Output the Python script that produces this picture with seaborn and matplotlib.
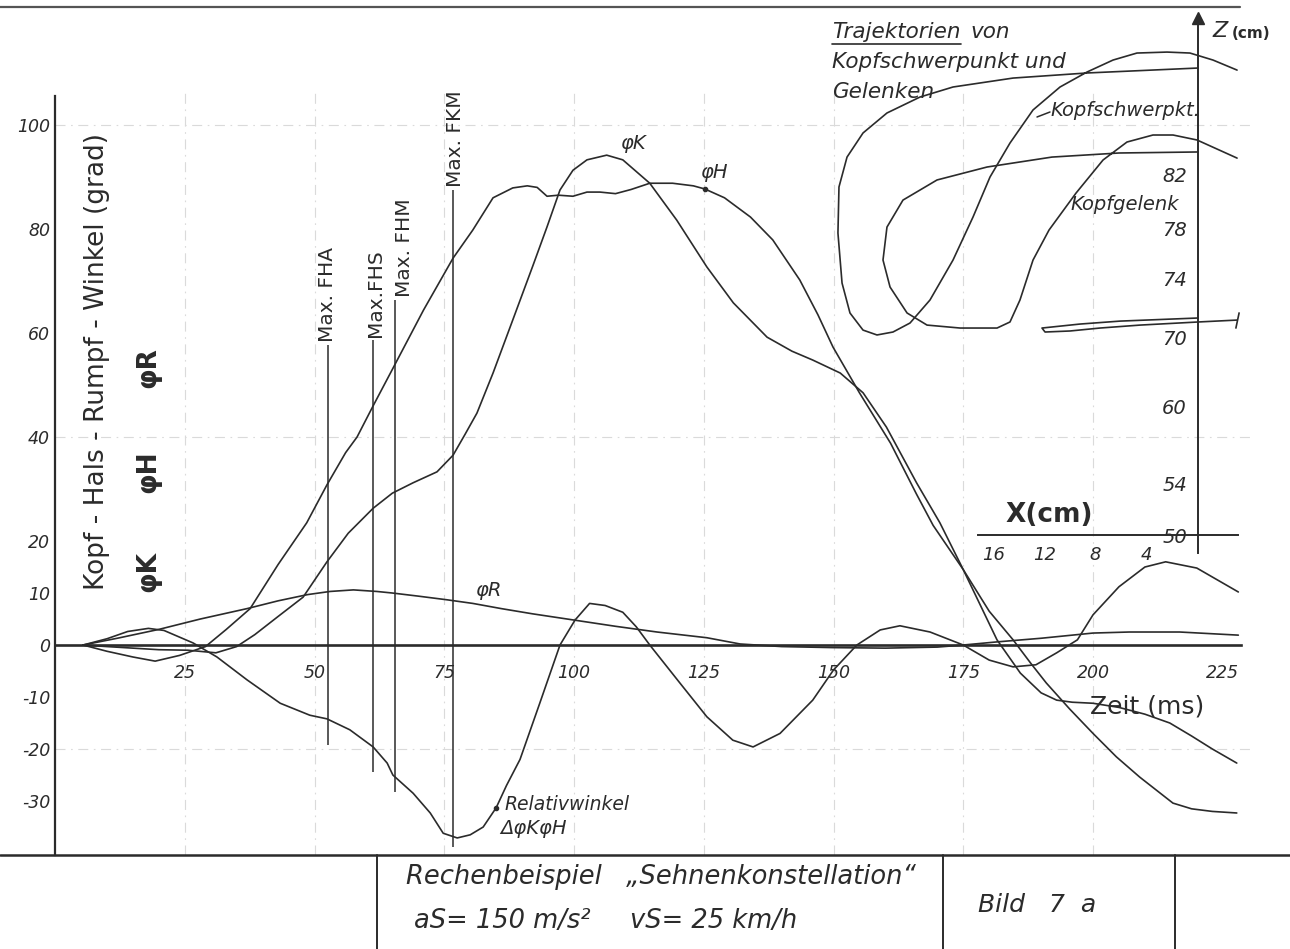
import numpy as np
import matplotlib
matplotlib.use("Agg")
import matplotlib.pyplot as plt
import seaborn as sns
from matplotlib.lines import Line2D
from matplotlib.transforms import blended_transform_factory

sns.set_theme(style="white")
plt.rcParams['font.family'] = ['DejaVu Sans']
INK = '#2b2b2b'
for k in ['text.color', 'axes.labelcolor', 'xtick.color', 'ytick.color', 'axes.edgecolor']:
    plt.rcParams[k] = INK

# ---------------- main chart data (time in ms, angle in grad) ----------------
t_phiK = [5.4, 10, 15, 20, 25.6, 31, 35, 38.5, 43, 47.8, 52.4, 56.5, 61.3, 65, 69,
          73.6, 76.7, 79, 81.3, 84.4, 88.2, 92.1, 94.8, 97.3, 99.8, 102.5, 106.3,
          109.4, 114.6, 119.8, 125.6, 130.7, 137.2, 142, 146, 151.3, 155.7, 160.2,
          166, 170.5, 175, 181.5, 186, 190, 193, 196, 200, 205, 210, 214.8, 219,
          223, 227.7]
phiK = [0, -0.3, -0.6, -0.9, -1.0, -1.5, -0.3, 2, 5.5, 9.2, 16, 21.5, 26.3, 29.2, 31.2,
        33.3, 36.5, 40.5, 44.6, 52.3, 62.5, 73, 80.4, 87.5, 91.3, 93.3, 94.2,
        93.3, 88.8, 81.7, 72.7, 65.8, 59.2, 56.5, 54.8, 52.3, 48.5, 41.9,
        31.2, 23.5, 14.5, 1, -5.4, -9.2, -10.6, -11, -11.2, -12, -13.3, -15, -17.5,
        -20, -22.7]

t_phiH = [5.4, 10, 15, 19.3, 24, 29, 33, 37.6, 43, 48.5, 52.4, 56, 58.2, 61.3, 65,
          71, 76.7, 80.5, 84.4, 88.2, 91, 92.9, 94.8, 97, 99.8, 102.5, 105, 108,
          111, 114.6, 119, 123, 125.2, 129, 134, 138.3, 143.5, 147, 149.9, 155,
          161, 166, 169.2, 175, 180, 184.6, 188, 191, 195.5, 200, 204.5, 209,
          215.4, 219, 223, 227.7]
phiH = [0, -1.2, -2.3, -3.1, -2, -0.3, 3, 7, 15.5, 23.5, 30.8, 37, 40, 46, 53,
        64.4, 74.4, 79.8, 86, 87.9, 88.3, 88, 86.3, 86.5, 86.3, 87.1, 87.1, 86.8,
        87.6, 88.8, 88.8, 88.3, 87.7, 86, 82.3, 77.9, 70.2, 63.5, 57.3, 48.5,
        38.8, 29, 23, 14.5, 6.5, 1, -3.5, -7.3, -12.3, -17, -21.5, -25.4,
        -30.4, -31.5, -32, -32.3]

t_phiR = [5.4, 12, 20, 28, 37, 43, 48.7, 53, 57.5, 62, 65, 70, 75.5, 80.5, 86, 92,
          100, 108, 116, 125.6, 132, 140, 150, 160, 170, 175, 181.5, 190, 200,
          207, 216.7, 228]
phiR = [0, 1.3, 3, 5, 7, 8.5, 9.7, 10.3, 10.6, 10.3, 10, 9.4, 8.7, 8, 7, 6,
        4.8, 3.6, 2.5, 1.4, 0.2, -0.3, -0.5, -0.6, -0.4, 0, 0.6, 1.3, 2.3,
        2.5, 2.5, 1.9]

t_delta = [5.4, 10, 14, 18, 21, 26.6, 31.2, 37, 43.4, 49.1, 52.4, 56.8, 61.3, 64,
           65.1, 69, 72.3, 74.8, 77.5, 80, 82.5, 85, 87, 89.6, 93.4, 97.3, 100.2,
           103, 106, 109.4, 112, 114.6, 120.4, 125.6, 130.6, 134.5, 139.7, 146,
           150, 154.5, 159, 162.8, 168.6, 175, 180, 184.6, 189, 193, 197, 200,
           205, 210, 214, 220, 228]
delta_KH = [0, 1.2, 2.6, 3.2, 2.8, 0.4, -2.3, -6.7, -11.2, -13.5, -14.2, -16.3,
            -19.6, -22.7, -25, -28.5, -32.3, -36.2, -37.1, -36.5, -35, -31.3, -27,
            -22, -11.2, 0, 4.8, 8, 7.6, 6.3, 3.5, 0, -7.3, -13.8, -18.3, -19.6,
            -17, -10.6, -4.8, 0, 2.9, 3.7, 2.5, 0, -2.9, -4.2, -3.8, -1.5, 1, 5.8,
            11.2, 15, 16, 14.8, 10.2]

# force maxima markers
event_names = ["Max. FHA", "Max.FHS", "Max. FHM", "Max. FKM"]
event_t = [52.6, 61.3, 65.5, 76.7]
event_top = [57.7, 58.7, 66.3, 87.5]
event_bottom = [-19.2, -24.4, -28.3, -38.8]

x_ticks = [25, 50, 75, 100, 125, 150, 175, 200, 225]
y_ticks = [100, 80, 60, 40, 20, 10, 0, -10, -20, -30]
grid_t = [25, 50, 75, 100, 125, 150, 175, 200]
grid_v = [100, 40, -20]

# ---------------- trajectories (X, Z in cm) ----------------
schwer_X = [0.0, 8.67, 14.45, 19.14, 21.72, 24.3, 26.17, 27.42, 28.05, 28.13, 27.81,
            27.19, 26.17, 25.08, 23.83, 22.5, 20.94, 19.14, 17.58, 16.25, 14.69,
            12.89, 10.78, 8.67, 6.64, 4.77, 2.42, 0.63, -1.17, -3.05]
schwer_Z = [90.0, 89.64, 89.27, 88.62, 87.89, 86.73, 85.22, 83.33, 81.04, 77.6, 73.66,
            71.63, 70.47, 70.14, 70.34, 70.95, 72.51, 75.44, 78.81, 81.78, 84.43,
            86.95, 88.62, 89.71, 90.58, 91.09, 91.16, 91.09, 90.58, 89.85]

gelenk_X = [0.0, 6.17, 11.41, 16.48, 20.39, 23.05, 24.3, 24.61, 24.06, 22.73, 21.17,
            18.59, 15.7, 14.69, 13.91, 12.89, 11.64, 9.53, 7.42, 5.55, 3.52, 1.95,
            0.08, -3.05]
gelenk_Z = [83.73, 83.65, 83.33, 82.55, 81.56, 80.07, 78.07, 75.44, 73.39, 71.63,
            70.81, 70.61, 70.61, 71.02, 72.51, 75.44, 77.84, 80.59, 83.1, 84.51,
            85.06, 85.06, 84.67, 83.25]

huefte_X = [0.0, 6.09, 9.22, 12.19, 11.95, 10.0, 7.66, 4.53, 0.0, -3.05]
huefte_Z = [71.29, 71.08, 70.88, 70.61, 70.34, 70.41, 70.61, 70.81, 71.02, 71.15]

z_ticks = [82, 78, 74, 70, 60, 54, 50]
z_minor = [90, 86, 65, 57]
x_cm_ticks = [16, 12, 8, 4]

# broken vertical scale of the trajectory axis (cm -> drawing units)
z_knots = [40, 50, 54, 57, 60, 65, 70, 74, 78, 82, 86, 90, 100]
u_knots = [665, 535, 483, 432, 406, 380, 337, 278, 228, 174, 123, 68, -69.5]


def z_fwd(z):
    return -np.interp(z, z_knots, u_knots)


def z_inv(u):
    return np.interp(-np.asarray(u), u_knots[::-1], z_knots[::-1])


# ---------------- figure ----------------
W, H = 1290, 949
fig = plt.figure(figsize=(W / 100, H / 100), dpi=100)
fig.patch.set_facecolor('white')


def fx(px):
    return px / W


def fy(py):
    return 1 - py / H


ax = fig.add_axes([fx(55), fy(855), fx(1250) - fx(55), fy(90) - fy(855)])
ax.set_facecolor('none')
ax.set_xlim(0, 230.25)
ax.set_ylim(-40.38, 106.73)

grid_style = dict(color='#dadada', lw=0.8, ls=(0, (9, 5, 1.5, 5)), zorder=0)
for t in grid_t:
    ax.axvline(t, **grid_style)
for v in grid_v:
    ax.axhline(v, **grid_style)

line_kw = dict(color=INK, lw=1.2, estimator=None, ax=ax)
sns.lineplot(x=t_phiK, y=phiK, **line_kw)
sns.lineplot(x=t_phiH, y=phiH, **line_kw)
sns.lineplot(x=t_phiR, y=phiR, **line_kw)
sns.lineplot(x=t_delta, y=delta_KH, **line_kw)
ax.set_xlabel('')
ax.set_ylabel('')

# maxima marker lines with their labels
label_dx = [0, 0.4, 1.9, 0.4]
ax.vlines(event_t, event_bottom, event_top, color=INK, lw=1.1)
for name, t, top, dx in zip(event_names, event_t, event_top, label_dx):
    ax.text(t + dx, top + 0.6, name, rotation=90, ha='center', va='bottom',
            fontsize=14.5)

# axes styling
for s in ['top', 'right']:
    ax.spines[s].set_visible(False)
ax.spines['bottom'].set_position(('data', 0))
ax.spines['bottom'].set_linewidth(1.9)
ax.spines['bottom'].set_bounds(0, 228.5)
ax.spines['left'].set_linewidth(1.6)
ax.spines['left'].set_bounds(-40.38, 105.6)
ax.set_xticks(x_ticks)
ax.set_xticklabels([str(v) for v in x_ticks], fontstyle='italic', fontsize=12.5)
ax.set_yticks(y_ticks)
ax.set_yticklabels([str(v) for v in y_ticks], fontstyle='italic', fontsize=12.5)
ax.tick_params(axis='x', direction='inout', length=9, width=1.1, pad=9)
ax.tick_params(axis='y', direction='inout', length=7, width=1.1, pad=0)

# curve labels
ax.text(108.9, 96.5, "φK", fontsize=14, fontstyle='italic', va='center')
ax.text(124.3, 90.8, "φH", fontsize=14, fontstyle='italic', va='center')
ax.text(80.9, 10.4, "φR", fontsize=14, fontstyle='italic', va='center')
ax.plot([125.2], [np.interp(125.2, t_phiH, phiH)], 'o', ms=3, color=INK)
ax.plot([85], [np.interp(85, t_delta, delta_KH)], 'o', ms=3, color=INK)
ax.text(86.7, -30.6, "Relativwinkel", fontsize=13.5, fontstyle='italic', va='center')
ax.text(85.7, -35.2, "ΔφKφH", fontsize=14, fontstyle='italic', va='center')
ax.text(199.5, -11.8, "Zeit (ms)", fontsize=18, va='center')

# vertical axis title and symbols
fig.text(fx(97), fy(362), "Kopf - Hals - Rumpf - Winkel (grad)", rotation=90,
         ha='center', va='center', fontsize=19)
for sym, py in [("φK", 572), ("φH", 472), ("φR", 368)]:
    fig.text(fx(148), fy(py), sym, rotation=90, ha='center', va='center',
             fontsize=19, fontweight='bold')

# ---------------- trajectory inset ----------------
axin = fig.add_axes([fx(835), fy(560), fx(1245) - fx(835), fy(10) - fy(560)])
axin.patch.set_alpha(0)
axin.set_yscale('function', functions=(z_fwd, z_inv))
axin.set_xlim(28.36, -3.67)
axin.set_ylim(48.08, 94.22)
in_kw = dict(color=INK, lw=1.2, estimator=None, sort=False, ax=axin)
sns.lineplot(x=schwer_X, y=schwer_Z, **in_kw)
sns.lineplot(x=gelenk_X, y=gelenk_Z, **in_kw)
sns.lineplot(x=huefte_X, y=huefte_Z, **in_kw)
axin.plot([huefte_X[-1]], [huefte_Z[-1]], marker=(2, 0, -12), ms=12, color=INK, mew=1.2)
axin.set_xlabel('')
axin.set_ylabel('')

for s in ['top', 'right']:
    axin.spines[s].set_visible(False)
axin.spines['left'].set_position(('data', 0))
axin.spines['left'].set_bounds(48.62, 93.6)
axin.spines['left'].set_linewidth(1.4)
axin.spines['bottom'].set_position(('data', 50))
axin.spines['bottom'].set_bounds(-3.1, 17.2)
axin.spines['bottom'].set_linewidth(1.4)
axin.set_yticks(z_ticks)
axin.set_yticklabels([str(v) for v in z_ticks], fontstyle='italic', fontsize=14)
axin.set_yticks(z_minor, minor=True)
axin.set_xticks(x_cm_ticks)
axin.set_xticklabels([str(v) for v in x_cm_ticks], fontstyle='italic', fontsize=13)
axin.tick_params(axis='y', which='both', direction='out', length=5, width=1.1, pad=3)
axin.tick_params(axis='x', direction='out', length=5, width=1.1, pad=3)
tr = blended_transform_factory(axin.transData, axin.transAxes)
axin.plot([0], [0.985], marker='^', ms=8, color=INK, transform=tr, clip_on=False)

t_traj = fig.text(fx(832), fy(32), "Trajektorien", fontsize=15.5, fontstyle='italic',
                  va='center')
fig.text(fx(832), fy(62), "Kopfschwerpunkt und", fontsize=15.5, fontstyle='italic',
         va='center')
fig.text(fx(832), fy(92), "Gelenken", fontsize=15.5, fontstyle='italic', va='center')
fig.text(fx(1050), fy(110), "Kopfschwerpkt.", fontsize=14, fontstyle='italic',
         va='center')
fig.add_artist(Line2D([fx(1037), fx(1050)], [fy(117), fy(112)], color=INK, lw=1.1))
fig.text(fx(1070), fy(205), "Kopfgelenk", fontsize=14, fontstyle='italic', va='center')
fig.text(fx(1005), fy(515), "X(cm)", fontsize=19, fontweight='bold', va='center')
fig.text(fx(1212), fy(31), "Z", fontsize=16, fontstyle='italic', va='center')
fig.text(fx(1232), fy(33), "(cm)", fontsize=11, fontweight='bold', va='center')

fig.canvas.draw()
bb = t_traj.get_window_extent(fig.canvas.get_renderer())
fig.text((bb.x1 + 10) / W, fy(32), "von", fontsize=15.5, fontstyle='italic', va='center')
fig.add_artist(Line2D([bb.x0 / W, bb.x1 / W], [fy(44), fy(44)], color=INK, lw=1.2))

# ---------------- frame and title block ----------------
fig.add_artist(Line2D([0, fx(1240)], [fy(7), fy(7)], color='#555555', lw=1.6))
fig.add_artist(Line2D([0, 1], [fy(855), fy(855)], color=INK, lw=1.8))
for px in [377, 943, 1175]:
    fig.add_artist(Line2D([fx(px), fx(px)], [fy(855), 0], color=INK, lw=1.4))
fig.text(fx(406), fy(877), "Rechenbeispiel   \u201eSehnenkonstellation\u201c",
         fontsize=18.5, fontstyle='italic', va='center')
fig.text(fx(414), fy(921), "aS= 150 m/s²", fontsize=18.5, fontstyle='italic', va='center')
fig.text(fx(630), fy(921), "vS= 25 km/h", fontsize=18.5, fontstyle='italic', va='center')
fig.text(fx(978), fy(905), "Bild   7  a", fontsize=18, fontstyle='italic', va='center')

fig.savefig("out.png", dpi=100, facecolor='white')
